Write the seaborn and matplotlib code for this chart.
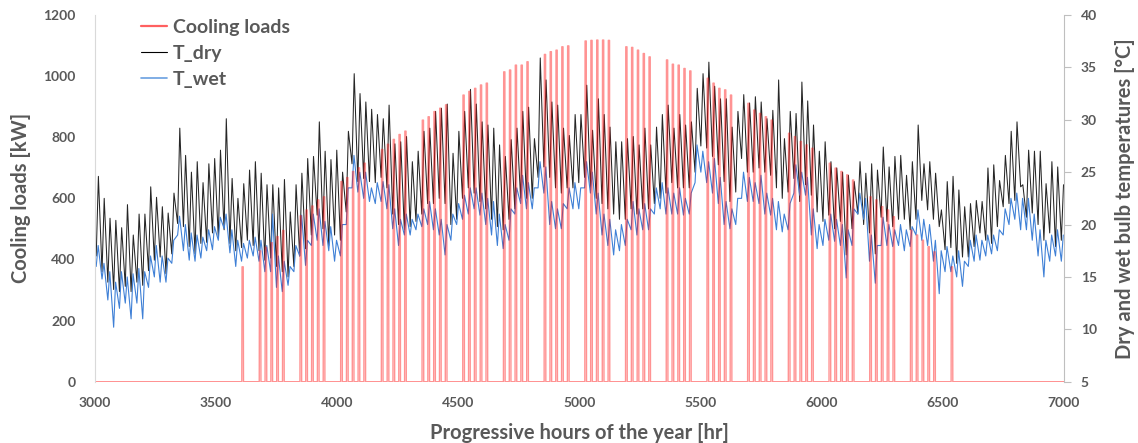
import numpy as np
import pandas as pd
import matplotlib
matplotlib.use("Agg")
import matplotlib.pyplot as plt
from matplotlib.lines import Line2D
import seaborn as sns

# ---------------------------------------------------------------------------
# Data: one entry per day, day 0 starting at hour 3000 of the year
# ---------------------------------------------------------------------------
START_HOUR = 3000

# daily maximum / minimum of the dry bulb temperature [°C]
tdry_max = [
    24.6, 22.5, 20.6, 20.4, 19.7, 21.9, 19.0, 21.0, 21.0, 23.6,
    22.6, 21.7, 21.1, 23.0, 29.2, 26.6, 25.0, 26.0, 24.0, 25.8,
    26.3, 27.1, 30.1, 24.4, 22.5, 23.9, 25.2, 26.0, 24.9, 23.8,
    23.8, 23.5, 24.3, 21.2, 23.8, 24.9, 26.3, 26.5, 29.8, 27.0,
    26.2, 27.1, 25.0, 28.9, 34.4, 32.5, 31.7, 31.0, 30.5, 30.1,
    31.4, 27.7, 27.9, 28.4, 26.0, 27.0, 28.9, 29.2, 30.8, 31.1,
    31.5, 26.8, 28.9, 30.8, 32.9, 31.5, 29.8, 29.5, 29.2, 27.6,
    26.5, 28.1, 29.2, 30.8, 31.2, 28.2, 35.9, 33.8, 31.7, 31.4,
    29.2, 28.5, 30.5, 30.5, 33.3, 29.0, 32.0, 30.5, 29.3, 27.9,
    27.9, 28.2, 28.4, 27.6, 29.2, 27.6, 29.3, 30.5, 31.4, 29.2,
    30.5, 29.5, 29.8, 33.0, 34.4, 35.5, 33.2, 32.0, 32.0, 29.3,
    30.8, 32.4, 31.6, 32.2, 31.7, 30.1, 30.9, 33.8, 28.2, 30.8,
    30.6, 33.6, 31.8, 29.5, 27.0, 27.9, 26.0, 25.4, 25.0, 24.7,
    24.1, 26.0, 24.9, 25.8, 25.2, 27.4, 25.5, 26.5, 26.6, 24.7,
    26.0, 29.5, 25.8, 26.0, 24.9, 21.4, 24.1, 24.6, 23.3, 21.7,
    22.0, 22.3, 22.2, 25.4, 25.7, 24.2, 26.6, 28.9, 29.8, 23.8,
    27.1, 27.0, 27.0, 23.9, 26.0, 25.5, 23.8,
]
tdry_min = [
    17.0, 15.5, 14.5, 13.8, 13.6, 14.1, 13.6, 14.5, 14.2, 15.6,
    16.6, 16.9, 15.3, 17.2, 20.1, 19.8, 17.9, 17.2, 18.2, 18.3,
    19.2, 18.8, 19.5, 18.2, 17.5, 17.8, 18.5, 18.0, 17.5, 16.6,
    16.8, 16.0, 15.5, 15.0, 16.0, 17.0, 17.7, 19.0, 20.9, 19.6,
    18.0, 19.0, 18.5, 21.2, 25.8, 24.1, 24.4, 24.1, 24.0, 24.5,
    23.5, 21.0, 20.0, 19.5, 19.8, 20.3, 21.0, 22.0, 22.0, 22.5,
    22.0, 20.0, 20.5, 22.5, 23.5, 23.0, 22.2, 21.5, 20.5, 19.8,
    19.5, 20.5, 21.5, 22.5, 22.5, 22.5, 24.5, 25.5, 24.5, 23.5,
    23.0, 23.5, 23.5, 24.0, 24.5, 23.5, 22.5, 22.0, 21.5, 21.0,
    20.5, 20.5, 21.5, 21.0, 21.5, 21.5, 22.0, 22.5, 23.0, 24.0,
    23.5, 23.5, 23.5, 25.0, 27.5, 27.3, 26.5, 25.7, 24.1, 22.2,
    23.1, 26.3, 25.0, 25.0, 25.4, 25.0, 24.7, 23.5, 22.5, 23.1,
    24.4, 22.2, 23.8, 22.8, 21.2, 20.3, 20.9, 19.6, 20.3, 17.1,
    19.6, 21.0, 20.0, 19.2, 17.2, 20.7, 20.3, 19.8, 20.5, 20.5,
    19.5, 20.5, 22.3, 21.4, 20.5, 19.8, 17.6, 17.8, 16.3, 16.9,
    16.9, 17.9, 19.2, 18.5, 18.2, 19.8, 21.7, 22.0, 22.3, 23.6,
    20.7, 21.1, 20.0, 18.5, 19.2, 17.9, 18.5,
]

# daily maximum / minimum of the wet bulb temperature [°C]
twet_max = [
    18.0, 16.3, 15.5, 14.5, 15.5, 15.0, 15.3, 15.8, 15.5, 17.0,
    18.0, 17.0, 16.8, 18.5, 20.8, 20.0, 19.2, 19.0, 18.8, 19.5,
    19.8, 20.7, 21.0, 19.5, 18.5, 18.2, 18.5, 18.8, 18.5, 18.0,
    21.0, 17.0, 16.5, 16.0, 18.0, 20.9, 18.5, 21.0, 21.5, 20.3,
    19.8, 18.5, 20.0, 23.5, 26.6, 25.0, 25.0, 23.5, 24.0, 24.1,
    23.8, 21.5, 20.5, 21.0, 20.5, 21.0, 21.5, 22.2, 21.5, 20.5,
    20.0, 21.0, 22.0, 22.8, 23.5, 23.5, 23.0, 22.5, 22.2, 21.0,
    20.0, 21.5, 23.5, 24.7, 24.0, 23.5, 26.0, 25.5, 22.2, 21.5,
    22.0, 23.5, 24.0, 23.5, 26.0, 25.0, 23.0, 21.0, 20.5, 19.5,
    20.0, 20.5, 22.2, 21.5, 22.0, 21.5, 23.5, 24.0, 23.5, 23.0,
    23.5, 22.5, 23.0, 27.6, 27.0, 26.0, 26.3, 24.5, 22.2, 21.5,
    22.5, 25.0, 24.5, 24.0, 24.7, 23.0, 22.5, 22.2, 21.0, 22.0,
    25.7, 25.0, 24.5, 21.5, 20.0, 20.5, 21.0, 20.5, 20.0, 19.5,
    21.5, 23.0, 22.5, 19.0, 18.0, 20.7, 20.0, 19.5, 20.0, 19.5,
    19.8, 21.4, 20.5, 20.0, 18.5, 17.5, 17.9, 17.0, 17.5, 16.5,
    18.5, 19.0, 18.5, 19.0, 19.0, 19.5, 21.5, 22.5, 23.0, 22.5,
    22.5, 21.0, 19.5, 18.5, 19.0, 19.5, 19.0,
]
twet_min = [
    16.0, 14.8, 12.8, 10.2, 12.0, 12.5, 11.0, 12.5, 11.0, 14.0,
    15.0, 14.5, 14.5, 16.3, 19.0, 17.5, 16.6, 16.5, 16.8, 17.5,
    17.6, 18.5, 19.6, 17.3, 16.0, 16.5, 16.8, 17.0, 16.5, 15.5,
    15.5, 14.0, 13.6, 14.2, 15.5, 17.0, 16.1, 18.0, 18.5, 18.0,
    17.5, 16.5, 17.0, 20.0, 23.5, 23.1, 22.5, 22.2, 22.0, 22.2,
    21.5, 19.6, 18.0, 19.0, 19.0, 19.5, 19.8, 20.0, 19.5, 19.0,
    17.1, 18.5, 20.0, 20.5, 21.0, 21.5, 20.9, 20.0, 19.0, 18.0,
    17.7, 18.5, 21.0, 22.0, 21.5, 21.5, 23.5, 23.0, 20.0, 19.6,
    19.6, 21.5, 21.5, 21.5, 23.5, 23.0, 21.0, 19.0, 18.0, 17.1,
    17.5, 18.0, 19.5, 19.0, 19.5, 19.5, 21.0, 21.5, 21.0, 21.0,
    21.0, 20.9, 21.0, 24.0, 25.0, 24.0, 23.0, 22.0, 20.0, 19.6,
    20.0, 22.5, 22.2, 22.2, 22.0, 21.0, 20.9, 19.5, 19.3, 19.5,
    23.0, 22.8, 22.8, 19.0, 17.7, 18.0, 18.5, 18.4, 18.0, 14.9,
    18.0, 21.0, 20.5, 16.5, 14.4, 18.0, 18.0, 17.9, 18.0, 17.5,
    17.9, 19.0, 18.5, 18.0, 16.5, 13.4, 15.5, 15.5, 15.0, 14.1,
    16.0, 16.5, 16.6, 17.0, 17.2, 17.5, 19.0, 20.0, 20.5, 19.5,
    19.5, 18.5, 17.0, 15.0, 16.5, 17.0, 16.5,
]

# working days with a cooling demand and their daily peak load [kW]
load_days = [
    25,
    28, 29, 30, 31, 32,
    35, 36, 37, 38, 39,
    42, 43, 44, 45, 46,
    49, 50, 51, 52, 53,
    56, 57, 58, 59, 60,
    63, 64, 65, 66, 67,
    70, 71, 72, 73, 74,
    77, 78, 79, 80, 81,
    84, 85, 86, 87, 88,
    91, 92, 93, 94, 95,
    98, 99, 100, 101, 102,
    105, 106, 107, 108, 109,
    112, 113, 114, 115, 116,
    119, 120, 121, 122, 123,
    126, 127, 128, 129, 130,
    133, 134, 135, 136, 137,
    140, 141, 142, 143, 144,
    147,
]
load_peaks = [
    376,
    428, 440, 455, 475, 495,
    543, 562, 575, 595, 605,
    655, 668, 688, 700, 715,
    760, 777, 793, 809, 820,
    856, 867, 884, 895, 906,
    938, 950, 960, 971, 977,
    1014, 1020, 1036, 1036, 1047,
    1071, 1080, 1085, 1096, 1099,
    1115, 1117, 1118, 1118, 1117,
    1096, 1094, 1085, 1074, 1063,
    1053, 1039, 1036, 1025, 1017,
    993, 977, 960, 955, 938,
    911, 889, 878, 867, 856,
    813, 802, 786, 775, 764,
    715, 699, 688, 677, 660,
    605, 595, 573, 562, 540,
    496, 480, 463, 442, 425,
    376,
]

# hours of the day used for the daily schedule
PLANT_ON, PLANT_OFF = 7, 12      # chiller running hours (inclusive)
HOUR_TMIN, HOUR_TMAX = 5, 14     # time of daily minimum / maximum temperature
HOUR_WMAX = 13

n_days = len(tdry_max)
days = np.arange(n_days)

# hourly cooling load profile: zero outside the running hours
hours = np.arange(START_HOUR, START_HOUR + n_days * 24)
load = np.zeros(len(hours))
for d, p in zip(load_days, load_peaks):
    load[d * 24 + PLANT_ON: d * 24 + PLANT_OFF + 1] = p
df_load = pd.DataFrame({"hour": hours, "load": load})


def daily_extremes(tmin, tmax, h_min, h_max):
    t = np.concatenate([START_HOUR + days * 24 + h_min, START_HOUR + days * 24 + h_max])
    v = np.concatenate([tmin, tmax])
    order = np.argsort(t)
    return pd.DataFrame({"hour": t[order], "T": v[order]})


df_dry = daily_extremes(tdry_min, tdry_max, HOUR_TMIN, HOUR_TMAX)
df_wet = daily_extremes(twet_min, twet_max, HOUR_TMIN, HOUR_WMAX)

# ---------------------------------------------------------------------------
# Figure
# ---------------------------------------------------------------------------
sns.set_style("white")
plt.rcParams["font.family"] = ["Lato", "DejaVu Sans"]
plt.rcParams["font.weight"] = "bold"

TXT = "#595959"
RED = "#ff1010"
BLUE = "#3f80d6"

fig = plt.figure(figsize=(11.38, 4.43), dpi=100)
ax = fig.add_axes([95 / 1138, 1 - 381.7 / 443, (1064 - 95) / 1138, (381.7 - 15) / 443])
ax2 = ax.twinx()

sns.lineplot(data=df_dry, x="hour", y="T", ax=ax2, color="black", lw=0.75,
             alpha=0.85, estimator=None, legend=False)
sns.lineplot(data=df_wet, x="hour", y="T", ax=ax2, color=BLUE, lw=0.8,
             estimator=None, legend=False)
sns.lineplot(data=df_load, x="hour", y="load", ax=ax, color=RED, lw=1.0,
             alpha=0.45, estimator=None, legend=False)

# put the load axis above the temperature axis
ax.set_zorder(ax2.get_zorder() + 1)
ax.patch.set_visible(False)

ax.set_xlim(3000, 7000)
ax.set_ylim(0, 1200)
ax2.set_ylim(5, 40)
ax.set_xticks(np.arange(3000, 7001, 500))
ax.set_yticks(np.arange(0, 1201, 200))
ax2.set_yticks(np.arange(5, 41, 5))

for a in (ax, ax2):
    for s in a.spines.values():
        s.set_visible(False)
ax.spines["left"].set_visible(True)
ax.spines["left"].set_color("#d9d9d9")
ax2.spines["right"].set_visible(True)
ax2.spines["right"].set_color("#bfbfbf")

ax.tick_params(axis="y", length=0, labelsize=10, labelcolor=TXT, pad=14)
ax.tick_params(axis="x", length=0, labelsize=10, labelcolor=TXT, pad=11)
ax2.tick_params(axis="y", length=5, color="#bfbfbf", labelsize=10,
                labelcolor=TXT, pad=7)
for lab in ax.get_xticklabels() + ax.get_yticklabels() + ax2.get_yticklabels():
    lab.set_fontweight("bold")

ax.set_xlabel("Progressive hours of the year [hr]", fontsize=14.5,
              fontweight="bold", color=TXT, labelpad=10)
ax.set_ylabel("Cooling loads [kW]", fontsize=14.5, fontweight="bold",
              color=TXT, labelpad=9)
ax2.set_ylabel("Dry and wet bulb temperatures [°C]", fontsize=14.5,
               fontweight="bold", color=TXT, labelpad=13)

handles = [
    Line2D([], [], color="#ff6060", lw=1.6),
    Line2D([], [], color="black", lw=0.8),
    Line2D([], [], color="#6a9fe0", lw=1.2),
]
fig.legend(handles, ["Cooling loads", "T_dry", "T_wet"], loc="upper left",
           bbox_to_anchor=(141 / 1138, 1 - 19 / 443), frameon=False,
           prop={"size": 14, "weight": "bold"}, labelcolor=TXT,
           handlelength=1.35, handletextpad=0.3, labelspacing=0.45,
           borderaxespad=0, borderpad=0)

fig.savefig("out.png", dpi=100)
